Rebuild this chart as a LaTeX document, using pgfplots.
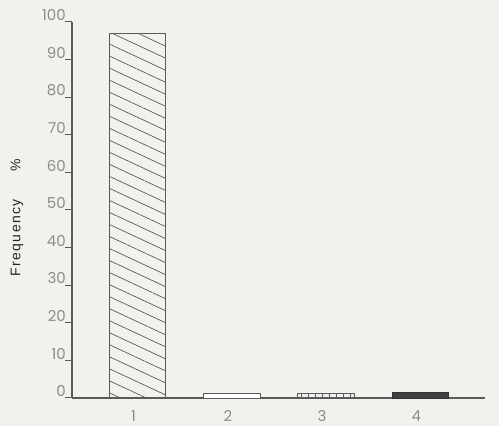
\documentclass[border=0pt]{standalone}
\usepackage{pgfplots}
\pgfplotsset{compat=1.18}
\usepackage{fontspec}
\setmainfont{Liberation Sans}
\newfontfamily\tickfont{Poppins}
\usetikzlibrary{patterns.meta,backgrounds}
\definecolor{bg}{RGB}{241,241,237}
\definecolor{axc}{RGB}{90,90,90}
\definecolor{tkc}{RGB}{140,140,140}
\begin{document}
\begin{tikzpicture}
\begin{axis}[
  scale only axis,
  width=413pt, height=376pt,
  xmin=0.305, xmax=4.685,
  ymin=0, ymax=100,
  axis lines*=left,
  axis line style={axc, line width=1.1pt},
  xtick={1,2,3,4},
  xticklabels={1,2,3,4},
  ytick={0,10,...,100},
  /pgf/number format/assume math mode=true,
  tick align=outside,
  major tick length=7pt,
  x tick style={draw=none},
  y tick style={axc, line width=1pt},
  yticklabel style={anchor=south east, inner sep=1pt, font=\fontsize{15}{15}\selectfont\tickfont, text=tkc, xshift=2pt},
  xticklabel style={font=\fontsize{15}{15}\selectfont\tickfont, text=tkc, anchor=north, yshift=-2pt, xshift=-4pt},
  ylabel={\addfontfeature{LetterSpace=10}Frequency\hspace{28pt}\%},
  ylabel style={at={(axis description cs:-0.133,0.48)}, anchor=center, rotate=0, font=\fontsize{14}{14}\selectfont, text=black!85},
  ybar, bar width=0.6, bar shift=0pt,
  clip=false,
]
\addplot[draw=axc, line width=0.9pt, pattern={Lines[angle=-25, distance=10.9pt, line width=0.7pt]}, pattern color=axc] coordinates {(1,97)};
\addplot[draw=axc, line width=0.9pt, fill=white] coordinates {(2,1.3)};
\addplot[draw=axc, line width=0.9pt, pattern={Lines[angle=90, distance=7pt, line width=0.8pt]}, pattern color=axc] coordinates {(3,1.25)};
\addplot[draw=black!80, line width=0.9pt, fill=black!75] coordinates {(4,1.4)};
\end{axis}
\pgfresetboundingbox
\begin{scope}[on background layer]
\path[fill=bg] (current axis.south west) ++(-72pt,-28pt) rectangle ++(499pt,426pt);
\end{scope}
\end{tikzpicture}
\end{document}
